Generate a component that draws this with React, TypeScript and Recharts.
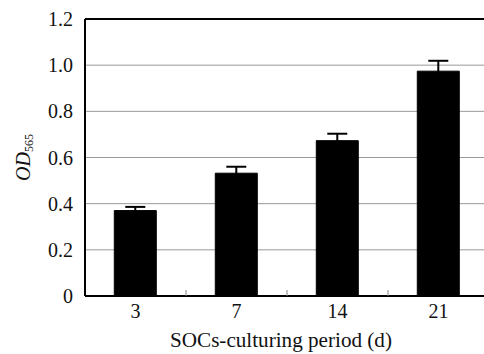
import { BarChart, Bar, XAxis, YAxis, CartesianGrid, ErrorBar, ReferenceLine } from 'recharts';

const periods = ['3', '7', '14', '21'];
const odValues = [0.37, 0.532, 0.673, 0.974];
const odErrors = [0.016, 0.028, 0.03, 0.045];
const yTicks = [0, 0.2, 0.4, 0.6, 0.8, 1.0, 1.2];

const data = periods.map((p, i) => ({ period: p, od: odValues[i], err: odErrors[i] }));

const FONT = 'Liberation Serif';

const XTick = (props: any) => {
  const { x, y, payload, index } = props;
  const half = payload.offset || 0;
  return (
    <g>
      {index < periods.length - 1 && (
        <line x1={x + half} x2={x + half} y1={y - 8} y2={y - 14} stroke="#888" strokeWidth={1} />
      )}
      <text x={x} y={y + 14} textAnchor="middle" style={{ fontSize: 20, fontFamily: FONT }} fill="#111">
        {payload.value}
      </text>
    </g>
  );
};

const YTick = (props: any) => {
  const { y, payload } = props;
  const v = payload.value as number;
  return (
    <text x={73} y={y + 7} textAnchor="end" style={{ fontSize: 20, fontFamily: FONT }} fill="#111">
      {v === 0 ? '0' : v.toFixed(1)}
    </text>
  );
};

const YLabel = (props: any) => {
  const { viewBox } = props;
  const cy = viewBox.y + viewBox.height / 2;
  return (
    <text
      x={0}
      y={0}
      transform={`translate(30, ${cy}) rotate(-90)`}
      textAnchor="middle"
      style={{ fontFamily: FONT }}
      fill="#111"
    >
      <tspan style={{ fontStyle: 'italic', fontSize: 20 }}>OD</tspan>
      <tspan style={{ fontSize: 12 }} dy={3}>565</tspan>
    </text>
  );
};

const XLabel = (props: any) => {
  const { viewBox } = props;
  return (
    <text
      x={281}
      y={viewBox.y + viewBox.height + 21}
      textAnchor="middle"
      textLength={222}
      lengthAdjust="spacingAndGlyphs"
      style={{ fontSize: 20, fontFamily: FONT }}
      fill="#111"
    >
      SOCs-culturing period (d)
    </text>
  );
};

export default function App() {
  return (
    <div style={{ position: 'absolute', left: 0, top: 0, width: 484, height: 354, overflow: 'hidden', background: '#fff' }}>
      <BarChart
        width={500}
        height={354}
        data={data}
        margin={{ top: 19, right: 11, bottom: 28, left: 0 }}
        barCategoryGap="29%"
      >
        <CartesianGrid vertical={false} stroke="#999" strokeWidth={1} />
        <XAxis
          dataKey="period"
          tick={<XTick />}
          tickLine={false}
          axisLine={{ stroke: '#000', strokeWidth: 2 }}
          height={30}
          label={<XLabel />}
        />
        <YAxis
          domain={[0, 1.2]}
          ticks={yTicks}
          tick={<YTick />}
          tickLine={false}
          axisLine={{ stroke: '#000', strokeWidth: 2 }}
          width={85}
          label={<YLabel />}
        />
        <ReferenceLine y={1.2} stroke="#000" strokeWidth={2} />
        <Bar dataKey="od" fill="#000" stroke="#000" isAnimationActive={false}>
          <ErrorBar dataKey="err" direction="y" width={10} stroke="#000" strokeWidth={2} />
        </Bar>
      </BarChart>
    </div>
  );
}
